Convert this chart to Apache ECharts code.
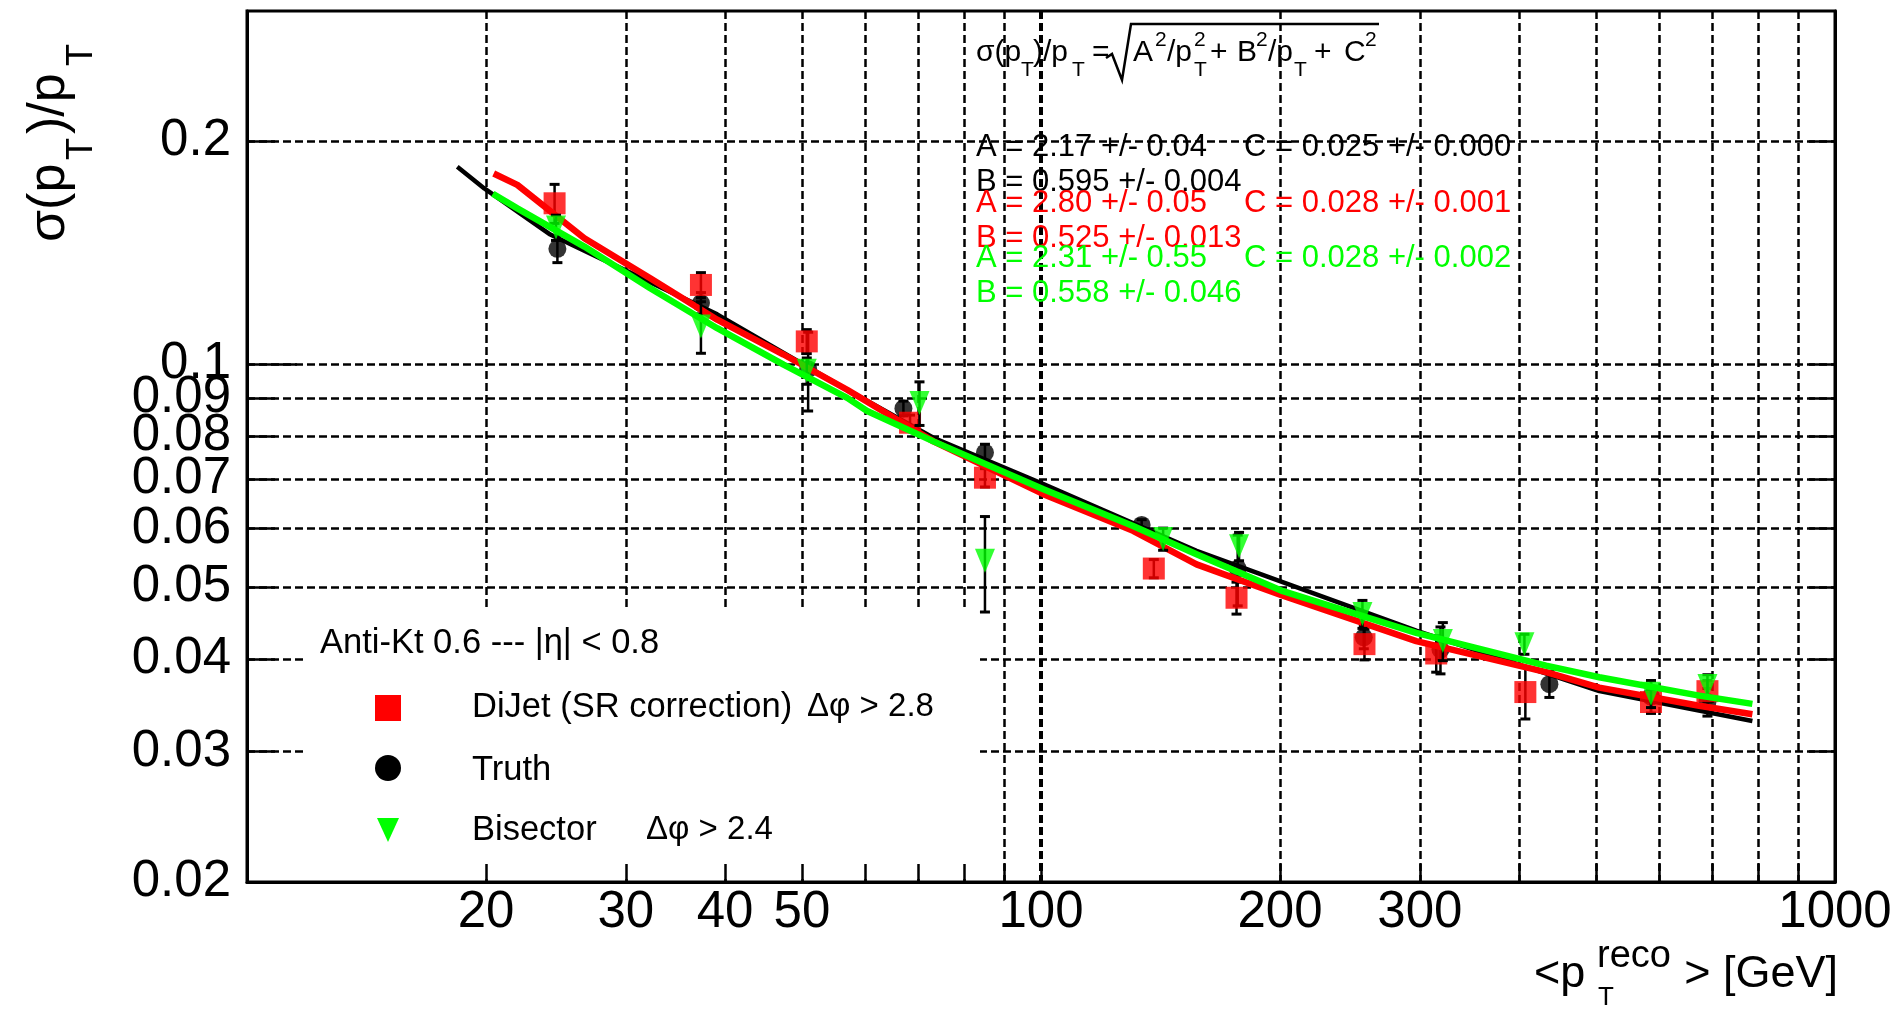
<!DOCTYPE html>
<html><head><meta charset="utf-8">
<script src="https://cdn.jsdelivr.net/npm/echarts@6/dist/echarts.min.js"></script>
<style>html,body{margin:0;padding:0;background:#fff}#c{width:1901px;height:1012px}</style>
</head><body><div id="c"></div>
<script>
// ---- axis ticks / labels ----
const xGridValues = [20,30,40,50,60,70,80,90,100,200,300,400,500,600,700,800,900];
const xHeavyGrid = [100];
const xTickLabels = [20,30,40,50,100,200,300,1000];
const yGridValues = [0.03,0.04,0.05,0.06,0.07,0.08,0.09,0.1,0.2];
const yLongTick = [0.1];
const yTickLabels = [0.02,0.03,0.04,0.05,0.06,0.07,0.08,0.09,0.1,0.2];

// ---- DiJet (SR correction), red squares ----
const dijetX   = [24.4, 37.3, 50.7, 68.4, 85.0, 138.7, 176.3, 255.5, 314.6, 407.4, 586.5, 690.8];
const dijetY   = [0.165, 0.128, 0.1074, 0.0834, 0.0703, 0.0530, 0.0484, 0.0419, 0.0407, 0.0361, 0.0350, 0.0362];
const dijetErr = [0.010, 0.005, 0.004, 0.002, 0.002, 0.0015, 0.0024, 0.002, 0.0023, 0.0029, 0.0012, 0.0012];
// ---- Truth, black circles ----
const truthX   = [24.6, 37.3, 50.9, 67.1, 85.0, 133.9, 176.9, 255.0, 318.5, 436.8, 586.5, 690.8];
const truthY   = [0.1432, 0.121, 0.0985, 0.0872, 0.0760, 0.0607, 0.0530, 0.0428, 0.0412, 0.0370, 0.0356, 0.0350];
const truthErr = [0.006, 0.004, 0.012, 0.002, 0.002, 0.001, 0.0058, 0.0015, 0.003, 0.0015, 0.0018, 0.0015];
// ---- Bisector, green triangles ----
const bisX   = [24.5, 37.3, 50.7, 70.3, 85.0, 142.5, 177.6, 254.0, 320.7, 406.3, 586.5, 690.8];
const bisY   = [0.153, 0.1125, 0.098, 0.0887, 0.0543, 0.0581, 0.0568, 0.0460, 0.0423, 0.0419, 0.0359, 0.0368];
const bisErr = [0.006, 0.009, 0.004, 0.006, 0.008, 0.002, 0.0025, 0.002, 0.0025, 0.0013, 0.0015, 0.0013];

// ---- fitted curves ----
const truthFitX = [18.4, 19.9, 24.1, 29.3, 39.1, 57.0, 73.2, 100.7, 157, 296.9, 504.9, 787];
const truthFitY = [0.1848, 0.1728, 0.1497, 0.1355, 0.1168, 0.0924, 0.0796, 0.0689, 0.0560, 0.0437, 0.0362, 0.0330];
const dijetFitX = [20.45, 21.9, 26.6, 32.2, 39.1, 47.4, 57.0, 73.2, 100.7, 130.6, 157, 201.7, 296.9, 432.6, 504.9, 674.5, 787];
const dijetFitY = [0.181, 0.1747, 0.1480, 0.1307, 0.1149, 0.1031, 0.0924, 0.0787, 0.0668, 0.0596, 0.0537, 0.0487, 0.0423, 0.0384, 0.0366, 0.0346, 0.0337];
const bisFitX = [20.4, 21.9, 26.6, 32.2, 39.1, 47.4, 57.0, 60.4, 73.2, 100.7, 130.6, 157, 201.7, 296.9, 432.6, 504.9, 674.5, 787];
const bisFitY = [0.170, 0.1624, 0.1442, 0.1267, 0.1119, 0.0999, 0.0901, 0.0865, 0.0787, 0.0678, 0.0605, 0.0554, 0.0494, 0.0434, 0.0392, 0.0378, 0.0357, 0.0348];

// ---- texts ----
const fitLinesBlack = ['A = 2.17 +/- 0.04', 'C = 0.025 +/- 0.000', 'B = 0.595 +/- 0.004'];
const fitLinesRed   = ['A = 2.80 +/- 0.05', 'C = 0.028 +/- 0.001', 'B = 0.525 +/- 0.013'];
const fitLinesGreen = ['A = 2.31 +/- 0.55', 'C = 0.028 +/- 0.002', 'B = 0.558 +/- 0.046'];
const legendTitle = 'Anti-Kt 0.6 --- |η| < 0.8';
const legendNames = ['DiJet (SR correction)', 'Truth', 'Bisector'];
const legendCuts  = ['Δφ > 2.8', '', 'Δφ > 2.4'];

const RED = '#ff0000', GREEN = '#00ff00', BLACK = '#000000';
const FONT = '"Liberation Sans", Arial, Helvetica, sans-serif';
const pairs = (xs, ys) => xs.map((x, i) => [x, ys[i]]);
const fmt = v => String(+(+v).toPrecision(6));

function errSeries(xs, ys, es, z) {
  return {
    type: 'custom', xAxisIndex: 0, yAxisIndex: 0, z: z, silent: true,
    data: xs.map((x, i) => [x, ys[i] - es[i], ys[i] + es[i]]),
    encode: { x: 0, y: [1, 2] },
    renderItem: function (params, api) {
      const x = api.value(0);
      const lo = api.coord([x, api.value(1)]);
      const hi = api.coord([x, api.value(2)]);
      const c = 5;
      const st = { stroke: BLACK, lineWidth: 2.5 };
      const cs = { stroke: BLACK, lineWidth: 3 };
      return { type: 'group', children: [
        { type: 'line', shape: { x1: lo[0], y1: lo[1], x2: hi[0], y2: hi[1] }, style: st },
        { type: 'line', shape: { x1: lo[0] - c, y1: lo[1], x2: lo[0] + c, y2: lo[1] }, style: cs },
        { type: 'line', shape: { x1: hi[0] - c, y1: hi[1], x2: hi[0] + c, y2: hi[1] }, style: cs }
      ]};
    }
  };
}
function txt(s, x, y, size, color, align, va) {
  return { type: 'text', x: x, y: y, z: 20, silent: true,
    style: { text: s, fill: color || BLACK, fontSize: size, fontFamily: FONT,
      align: align || 'left', verticalAlign: va || 'middle' } };
}

const chart = echarts.init(document.getElementById('c'), null, { renderer: 'canvas' });
const dash = { color: BLACK, width: 2.5, type: [8, 4] };
const baseX = { type: 'log', logBase: 10, min: 10, max: 1000, gridIndex: 0 };
const baseY = { type: 'log', logBase: 10, min: 0.02, max: 0.3, gridIndex: 0 };
const noMinor = { minorTick: { show: false }, minorSplitLine: { show: false } };

const fitText = [];
[[fitLinesBlack, BLACK, 147, 182], [fitLinesRed, RED, 203, 238], [fitLinesGreen, GREEN, 258, 293]].forEach(g => {
  fitText.push(txt(g[0][0], 976, g[2], 31, g[1]));
  fitText.push(txt(g[0][1], 1244, g[2], 31, g[1]));
  fitText.push(txt(g[0][2], 976, g[3], 31, g[1]));
});

// formula sigma(pT)/pT = sqrt(A^2/pT^2 + B^2/pT + C^2)
const FM = 53, FSUP = 40, FSUB = 70;
const formula = [
  txt('σ(p', 976, FM, 30), txt('T', 1021, FSUB, 21), txt(')/p', 1033, FM, 30), txt('T', 1072, FSUB, 21),
  txt('=', 1092, FM, 30),
  { type: 'polyline', z: 20, silent: true, shape: { points: [[1106, 58], [1112, 54], [1122, 80], [1131, 24], [1379, 24]] },
    style: { stroke: BLACK, lineWidth: 2.5, fill: null } },
  txt('A', 1133, FM, 30), txt('2', 1155, FSUP, 21), txt('/p', 1167, FM, 30), txt('2', 1194, FSUP, 21), txt('T', 1194, FSUB, 21),
  txt('+', 1210, FM, 30),
  txt('B', 1237, FM, 30), txt('2', 1256, FSUP, 21), txt('/p', 1268, FM, 30), txt('T', 1294, FSUB, 21),
  txt('+', 1314, FM, 30),
  txt('C', 1344, FM, 30), txt('2', 1365, FSUP, 21)
];

const legend = [
  { type: 'rect', z: 1, silent: true, shape: { x: 303, y: 611, width: 677, height: 268 }, style: { fill: '#ffffff' } },
  txt(legendTitle, 320, 643, 34.5),
  { type: 'rect', z: 20, silent: true, shape: { x: 375, y: 695, width: 26, height: 26 }, style: { fill: RED } },
  { type: 'circle', z: 20, silent: true, shape: { cx: 388, cy: 768, r: 13 }, style: { fill: BLACK } },
  { type: 'polygon', z: 20, silent: true, shape: { points: [[377, 818], [399, 818], [388, 842]] }, style: { fill: GREEN } },
  txt(legendNames[0], 472, 707, 34.5), txt(legendCuts[0], 807, 707, 33),
  txt(legendNames[1], 472, 770, 34.5),
  txt(legendNames[2], 472, 830, 34.5), txt(legendCuts[2], 646, 830, 33)
];

const titles = [
  { type: 'group', x: 50, y: 242, rotation: Math.PI / 2, z: 20, silent: true, children: [
    txt('σ(p', 0, 0, 52), txt('T', 82, 32, 36), txt(')/p', 108, 0, 52), txt('T', 176, 32, 36)
  ]},
  txt('<p', 1534, 975, 45), txt('reco', 1597, 957, 38), txt('T', 1598, 998, 26),
  txt('> [GeV]', 1838, 975, 45, BLACK, 'right')
];

const option = {
  animation: false,
  backgroundColor: '#ffffff',
  grid: { left: 247, right: 66, top: 11, bottom: 130, containLabel: false, outerBoundsMode: 'none',
          show: true, borderColor: BLACK, borderWidth: 3, backgroundColor: 'transparent' },
  xAxis: [
    Object.assign({}, baseX, noMinor, { position: 'bottom', z: 0,
      axisLine: { show: false }, axisTick: { show: false, customValues: xGridValues },
      axisLabel: { show: false }, splitLine: { show: true, lineStyle: dash } }),
    Object.assign({}, baseX, noMinor, { position: 'bottom', z: 5,
      axisLine: { show: true, onZero: false, lineStyle: { color: BLACK, width: 3 } },
      axisTick: { show: true, inside: true, length: 18, customValues: xGridValues, lineStyle: { color: BLACK, width: 2.5 } },
      axisLabel: { show: true, customValues: xTickLabels, formatter: fmt, color: BLACK, fontSize: 51,
                   fontFamily: FONT, margin: 5, hideOverlap: false },
      splitLine: { show: false } }),
    Object.assign({}, baseX, noMinor, { position: 'bottom', z: 0,
      axisLine: { show: false }, axisTick: { show: false, customValues: xHeavyGrid },
      axisLabel: { show: false }, splitLine: { show: true, lineStyle: { color: BLACK, width: 4, type: [8, 4] } } })
  ],
  yAxis: [
    Object.assign({}, baseY, noMinor, { position: 'left', z: 0,
      axisLine: { show: false }, axisTick: { show: false, customValues: yGridValues },
      axisLabel: { show: false }, splitLine: { show: true, lineStyle: dash } }),
    Object.assign({}, baseY, noMinor, { position: 'left', z: 5,
      axisLine: { show: true, onZero: false, lineStyle: { color: BLACK, width: 3 } },
      axisTick: { show: true, inside: true, length: 28, customValues: yGridValues, lineStyle: { color: BLACK, width: 2.5 } },
      axisLabel: { show: true, customValues: yTickLabels, formatter: fmt, color: BLACK, fontSize: 51,
                   fontFamily: FONT, margin: 16, hideOverlap: false },
      splitLine: { show: false } }),
    Object.assign({}, baseY, noMinor, { position: 'right', z: 5,
      axisLine: { show: true, onZero: false, lineStyle: { color: BLACK, width: 3 } },
      axisTick: { show: true, inside: true, length: 26, customValues: yGridValues, lineStyle: { color: BLACK, width: 2.5 } },
      axisLabel: { show: false }, splitLine: { show: false } }),
    Object.assign({}, baseY, noMinor, { position: 'left', z: 5,
      axisLine: { show: false },
      axisTick: { show: true, inside: true, length: 50, customValues: yLongTick, lineStyle: { color: BLACK, width: 2.5 } },
      axisLabel: { show: false }, splitLine: { show: false } })
  ],
  series: [
    errSeries(truthX, truthY, truthErr, 2),
    { type: 'scatter', xAxisIndex: 0, yAxisIndex: 0, z: 2, symbol: 'circle', symbolSize: 18,
      itemStyle: { color: BLACK }, data: pairs(truthX, truthY) },
    { type: 'line', xAxisIndex: 0, yAxisIndex: 0, z: 3, showSymbol: false, smooth: false,
      lineStyle: { color: BLACK, width: 4.5 }, data: pairs(truthFitX, truthFitY) },
    errSeries(dijetX, dijetY, dijetErr, 4),
    { type: 'scatter', xAxisIndex: 0, yAxisIndex: 0, z: 4, symbol: 'rect', symbolSize: 22,
      itemStyle: { color: RED }, data: pairs(dijetX, dijetY) },
    { type: 'line', xAxisIndex: 0, yAxisIndex: 0, z: 5, showSymbol: false, smooth: false,
      lineStyle: { color: RED, width: 6.5 }, data: pairs(dijetFitX, dijetFitY) },
    errSeries(bisX, bisY, bisErr, 6),
    { type: 'scatter', xAxisIndex: 0, yAxisIndex: 0, z: 6, symbol: 'triangle', symbolRotate: 180, symbolSize: [20, 24],
      itemStyle: { color: GREEN }, data: pairs(bisX, bisY) },
    { type: 'line', xAxisIndex: 0, yAxisIndex: 0, z: 7, showSymbol: false, smooth: false,
      lineStyle: { color: GREEN, width: 6.5 }, data: pairs(bisFitX, bisFitY) }
  ],
  graphic: { elements: [].concat(legend, fitText, formula, titles) }
};
chart.setOption(option);
</script>
</body></html>
